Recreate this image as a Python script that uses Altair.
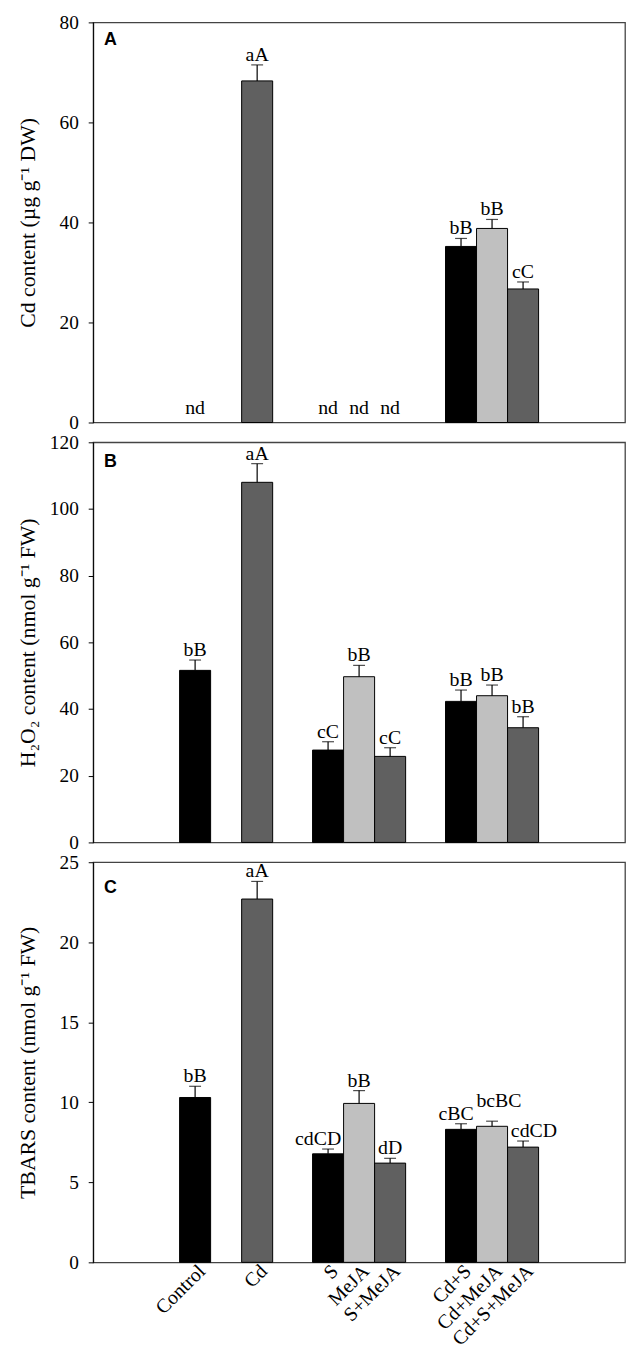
import altair as alt
import pandas as pd

# ---------------- data ----------------
treatments = ["Control", "Cd", "S", "MeJA", "S+MeJA", "Cd+S", "Cd+MeJA", "Cd+S+MeJA"]
group_index = [1, 1, 2, 2, 2, 3, 3, 3]
slot_index = [1, 3, 1, 2, 3, 1, 2, 3]
slot_colors = ["#000000", "#c0c0c0", "#606060"]

cd_mean = [None, 68.3, None, None, None, 35.2, 38.8, 26.7]
cd_err = [None, 3.2, None, None, None, 1.6, 1.8, 1.4]
cd_letters = ["nd", "aA", "nd", "nd", "nd", "bB", "bB", "cC"]

h2o2_mean = [51.6, 108.0, 27.7, 49.7, 25.8, 42.3, 44.0, 34.4]
h2o2_err = [3.1, 5.6, 2.5, 3.4, 2.6, 3.4, 3.2, 3.3]
h2o2_letters = ["bB", "aA", "cC", "bB", "cC", "bB", "bB", "bB"]

tbars_mean = [10.3, 22.7, 6.78, 9.93, 6.2, 8.31, 8.5, 7.2]
tbars_err = [0.7, 1.1, 0.3, 0.8, 0.3, 0.35, 0.32, 0.38]
tbars_letters = ["bB", "aA", "cdCD", "bB", "dD", "cBC", "bcBC", "cdCD"]

# ---------------- style ----------------
SERIF = "Liberation Serif"
SANS = "Liberation Sans"
W = 0.7 / 3          # bar width in x units (group width 0.7)
PW, PH = 537, 404    # plot size per panel
TXT = 20


def panel(mean, err, letters, ymax, ystep, title, tag, tag_y, xlabels=False, nudges=None):
    nudges = nudges or {}
    df = pd.DataFrame({
        "treatment": treatments, "group": group_index, "slot": slot_index,
        "mean": mean, "err": err, "letter": letters,
    })
    base = alt.Chart(df).transform_calculate(
        xc=f"datum.group + (datum.slot - 2) * {W}",
        x0=f"datum.group + (datum.slot - 2.5) * {W}",
        x1=f"datum.group + (datum.slot - 1.5) * {W}",
        top="datum.mean + datum.err",
    )
    xs = alt.Scale(domain=[0, 4], nice=False, zero=False)
    ys = alt.Scale(domain=[0, ymax], nice=False)
    yaxis = alt.Axis(title=title, values=list(range(0, ymax + 1, ystep)), titleX=-54,
                     labelFont=SERIF, titleFont=SERIF)

    valid = base.transform_filter("isValid(datum.mean)")
    bars = valid.mark_bar(stroke="black", strokeWidth=1).encode(
        x=alt.X("x0:Q", scale=xs, axis=None),
        x2="x1:Q",
        y=alt.Y("mean:Q", scale=ys, axis=yaxis),
        y2=alt.datum(0),
        color=alt.Color("slot:N", scale=alt.Scale(domain=[1, 2, 3], range=slot_colors), legend=None),
    )
    rule = valid.mark_rule(color="black", strokeWidth=1.2).encode(
        x="xc:Q", y="mean:Q", y2="top:Q")
    cap = valid.mark_tick(orient="horizontal", size=12, thickness=1.2, color="black").encode(
        x="xc:Q", y="top:Q")

    layers = [bars, rule, cap]
    plain = valid
    for n in nudges:
        plain = plain.transform_filter(alt.datum.treatment != n)
    layers.append(plain.mark_text(font=SERIF, fontSize=TXT, baseline="alphabetic", dy=-4,
                                  color="black").encode(x="xc:Q", y="top:Q", text="letter:N"))
    for n, (ddx, ddy) in nudges.items():
        layers.append(valid.transform_filter(alt.datum.treatment == n).mark_text(
            font=SERIF, fontSize=TXT, baseline="alphabetic", dx=ddx, dy=-4 + ddy, color="black"
        ).encode(x="xc:Q", y="top:Q", text="letter:N"))

    nd = base.transform_filter("!isValid(datum.mean)").mark_text(
        font=SERIF, fontSize=TXT, baseline="alphabetic", dy=-9, color="black"
    ).encode(x="xc:Q", y=alt.datum(0), text="letter:N")
    layers.append(nd)

    tagc = alt.Chart(pd.DataFrame({"tag": [tag]})).mark_text(
        font=SANS, fontWeight="bold", fontSize=18, align="left", baseline="alphabetic", color="black"
    ).encode(x=alt.value(11), y=alt.value(tag_y), text="tag:N")
    layers.append(tagc)

    if xlabels:
        layers.append(base.mark_text(
            font=SERIF, fontSize=TXT, angle=315, align="right", baseline="middle",
            dx=5, dy=5, color="black"
        ).encode(x="xc:Q", y=alt.value(PH + 6), text="treatment:N"))

    return alt.layer(*layers).properties(width=PW, height=PH)


pA = panel(cd_mean, cd_err, cd_letters, 80, 20, "Cd content (µg g⁻¹ DW)", "A", 23)
pB = panel(h2o2_mean, h2o2_err, h2o2_letters, 120, 20, "H₂O₂ content (nmol g⁻¹ FW)", "B", 25)
pC = panel(tbars_mean, tbars_err, tbars_letters, 25, 5, "TBARS content (nmol g⁻¹ FW)", "C", 31,
           xlabels=True,
           nudges={"S": (-10, 0), "Cd+S": (-5, 0), "Cd+MeJA": (7, -10), "Cd+S+MeJA": (11, 0)})

chart = alt.vconcat(pA, pB, pC, spacing=20, bounds="flush").properties(
    padding={"left": 8, "top": -3, "right": 0, "bottom": -5}
).configure_view(
    stroke="#444444", strokeWidth=1.3
).configure_axis(
    labelFont=SERIF, labelFontSize=19.5, labelColor="black", labelPadding=10,
    titleFont=SERIF, titleFontSize=22, titleFontWeight="normal", titleColor="black",
    domainColor="black", domainWidth=1, tickColor="black", tickSize=5, tickWidth=1,
    grid=False,
)

chart.save("out.html", embed_options={"renderer": "svg", "actions": False})
